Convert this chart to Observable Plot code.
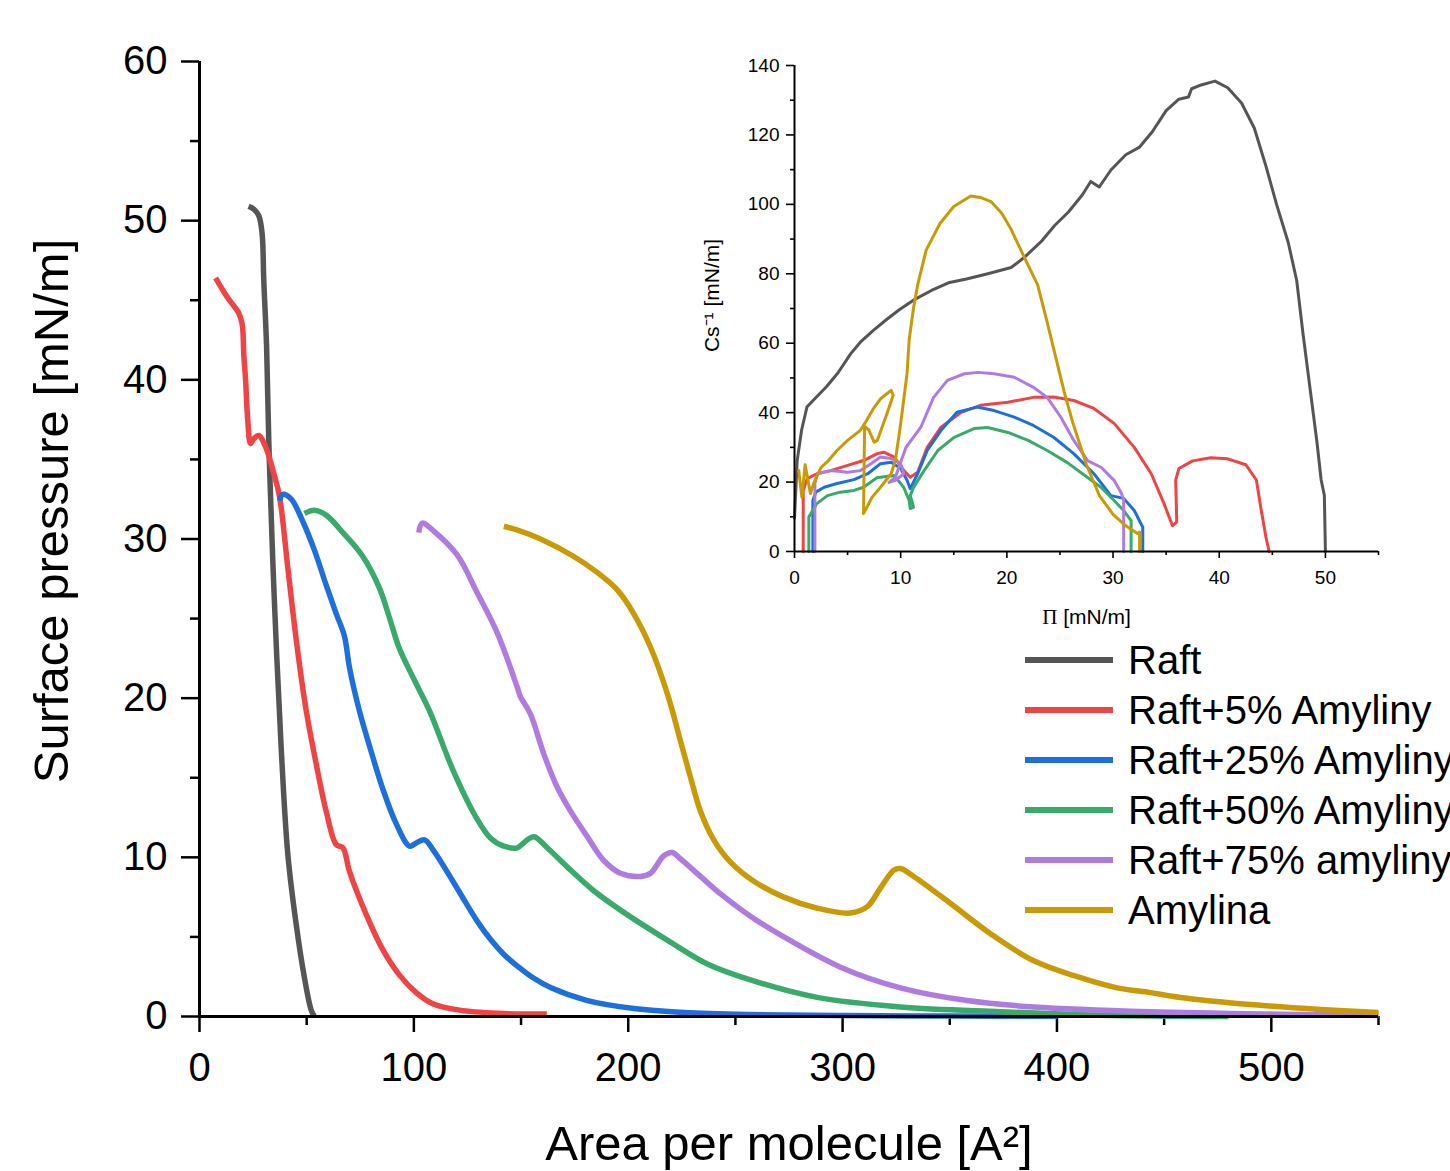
<!DOCTYPE html>
<html>
<head>
<meta charset="utf-8">
<script src="https://cdn.jsdelivr.net/npm/d3@7"></script>
<script src="https://cdn.jsdelivr.net/npm/@observablehq/plot@0.6"></script>
<style>
  html, body { margin: 0; padding: 0; background: #fff; overflow: hidden; }
  #wrap { position: relative; width: 1450px; height: 1171px; overflow: hidden; font-family: "Liberation Sans", Arial, sans-serif; }
  #main { position: absolute; left: 0; top: 0; }
  #inset { position: absolute; left: 690px; top: 40px; width: 760px; }
  #legend { position: absolute; left: 1020px; top: 630px; }
</style>
</head>
<body>
<div id="wrap">
  <div id="main"></div>
  <div id="inset"></div>
  <div id="legend"></div>
</div>
<script>
// ---------- Series names & colours ----------
const seriesNames = ["Raft", "Raft+5% Amyliny", "Raft+25% Amyliny", "Raft+50% Amyliny", "Raft+75% amyliny", "Amylina"];
const seriesColors = ["#555555", "#f04343", "#1d6fdd", "#38aa6a", "#b07be0", "#c99a06"];

// ---------- Main chart: area per molecule [A^2] vs surface pressure [mN/m] ----------
const raftA  = [22.9, 25.5, 27.7, 29.2, 30.0, 31.3, 32.6, 35.0, 38.1, 41.2, 45.1, 49.0, 52.1, 53.6];
const raftP  = [50.9, 50.7, 50.3, 49.2, 46.2, 42.1, 34.8, 25.9, 16.9, 10.2, 5.8, 2.4, 0.4, 0];

const r5A = [7.5, 12.9, 18.3, 19.9, 20.7, 21.5, 22.5, 23.8, 25.3, 27.7, 30.8, 34.7, 37.3, 41.2, 45.1, 49.8, 54.4, 59.1, 63.8, 66.9, 70.0, 77.8, 85.5, 93.3, 101.1, 108.8, 121.3, 140, 162];
const r5P = [46.4, 45.2, 44.2, 43.5, 41.5, 40.0, 37.5, 36.0, 36.3, 36.5, 35.8, 34.1, 32.7, 28.2, 23.7, 19.2, 15.9, 12.9, 10.8, 10.6, 9.1, 6.4, 4.2, 2.6, 1.5, 0.8, 0.4, 0.2, 0.15];

const r25A = [37.3, 38.9, 42.8, 48.2, 53.6, 59.1, 63.8, 67.6, 70.0, 74.6, 79.3, 85.5, 91.8, 98.0, 101.1, 105.0, 108.8, 118.2, 124, 130, 136, 142, 148, 156, 164, 181, 202.6, 225.9, 257, 300, 350, 400];
const r25P = [32.4, 32.8, 32.5, 31.1, 29.3, 27.1, 25.3, 23.9, 21.9, 19.2, 17.0, 14.3, 12.1, 10.7, 10.9, 11.1, 10.5, 8.5, 7.2, 5.9, 4.8, 3.9, 3.2, 2.4, 1.8, 1.0, 0.5, 0.25, 0.12, 0.06, 0.03, 0.01];

const r50A = [49.0, 53.6, 59.1, 66.9, 76.2, 84.0, 88.5, 93.3, 100, 107.3, 118.2, 129.1, 135.8, 142.0, 148.2, 152, 156.0, 162.2, 171.5, 183.9, 199.5, 218.2, 236.9, 257, 288.2, 327, 373.7, 420, 480];
const r50P = [31.6, 31.8, 31.5, 30.4, 28.9, 26.9, 25.1, 23.1, 21.2, 19.2, 15.5, 12.5, 11.2, 10.7, 10.6, 11.0, 11.3, 10.6, 9.4, 7.9, 6.4, 4.8, 3.3, 2.3, 1.2, 0.6, 0.3, 0.08, 0];

const r75A = [102.3, 103.9, 109.3, 120.2, 129.6, 138.9, 148.2, 149.7, 154.4, 160.6, 166.9, 173.1, 180.9, 188.6, 196.4, 205.7, 210.4, 216.6, 220.5, 224.4, 233.7, 243.1, 257, 272.6, 299, 327, 358.1, 389.2, 443.6, 513.6, 550];
const r75P = [30.4, 31.0, 30.5, 29.0, 26.6, 24.1, 20.7, 20.1, 19.0, 16.5, 14.4, 12.9, 11.3, 9.8, 9.0, 8.8, 9.0, 10.1, 10.3, 9.9, 8.8, 7.7, 6.3, 5.0, 3.1, 1.8, 1.0, 0.6, 0.3, 0.13, 0.06];

const amyA = [142.0, 147.4, 159.1, 174.6, 185.5, 194.9, 202.6, 210.4, 218.2, 224.4, 229.1, 233.7, 239.9, 247.7, 258.6, 272.6, 288.2, 303.7, 311.5, 317.8, 324.0, 327.0, 333.2, 350.4, 369, 389.2, 409.5, 428.1, 443.6, 457.6, 490.3, 523, 550];
const amyP = [30.8, 30.6, 30.0, 28.9, 27.9, 26.8, 25.3, 23.2, 20.3, 17.3, 15.0, 12.9, 11.1, 9.7, 8.5, 7.5, 6.8, 6.5, 6.9, 8.1, 9.2, 9.3, 8.8, 7.1, 5.2, 3.5, 2.5, 1.8, 1.5, 1.2, 0.75, 0.44, 0.25];

// ---------- Inset: Pi [mN/m] vs Cs^-1 [mN/m] ----------
const raftPi = [0, 0.25, 0.67, 1.17, 2.0, 3.05, 4.1, 5.3, 6.2, 7.4, 8.7, 9.9, 11.2, 12.9, 14.5, 16.2, 18.3, 20.4, 21.6, 23.3, 24.5, 25.8, 27.1, 27.9, 28.7, 29.8, 31.2, 32.5, 33.7, 35.0, 36.2, 37.1, 37.4, 38.3, 39.6, 40.8, 42.1, 43.3, 44.4, 45.4, 46.5, 47.3, 47.9, 48.5, 49.2, 49.6, 49.9, 50.0];
const raftCs = [9.6, 26.1, 35, 41.6, 44.3, 47.6, 51.5, 57, 60.3, 63.6, 66.9, 69.7, 72.4, 75.2, 77.4, 78.5, 80.1, 81.8, 84.6, 89.5, 93.9, 97.8, 102.7, 106.6, 105.0, 109.9, 114.3, 116.5, 120.9, 127.0, 130.3, 130.9, 133.3, 134.4, 135.5, 133.6, 129.2, 122.0, 111.0, 100.0, 89.0, 78.0, 62.5, 48.2, 31.6, 20.6, 16.2, 0];

const r5Pi = [0.82, 0.82, 1.2, 2.1, 3.4, 5.0, 6.5, 7.8, 8.4, 9.4, 10.3, 10.9, 11.6, 12.5, 13.8, 15.7, 17.5, 20.1, 22.5, 24.4, 26.3, 28.2, 30.1, 32.0, 33.6, 34.8, 35.6, 36.0, 35.9, 36.2, 37.5, 39.2, 40.8, 42.5, 43.5, 43.9, 44.4, 44.7];
const r5Cs = [0, 17.6, 21.0, 22.4, 23.3, 24.8, 26.2, 28.2, 28.6, 27.2, 23.3, 21.4, 22.8, 30.0, 35.8, 40.1, 42.1, 43.0, 44.4, 44.5, 43.5, 41.2, 36.9, 30.0, 22.4, 13.8, 7.4, 8.5, 20.6, 23.9, 26.1, 27.0, 26.7, 25.0, 20.6, 12.9, 4.1, 0];

const r25Pi = [1.73, 1.73, 2.0, 2.8, 4.0, 5.6, 6.9, 8.1, 9.1, 10.0, 10.6, 10.9, 11.6, 12.5, 13.8, 15.3, 17.2, 18.8, 20.7, 22.5, 24.4, 26.3, 28.2, 29.8, 31.0, 32.0, 32.8, 32.8];
const r25Cs = [0, 14.7, 17.1, 18.5, 19.6, 20.7, 22.4, 25.3, 25.7, 23.9, 20.5, 18.1, 22.4, 29.1, 34.9, 40.1, 41.6, 40.6, 38.7, 36.3, 32.9, 28.2, 22.4, 16.1, 15.3, 11.8, 7.0, 0];

const r50Pi = [1.35, 1.35, 2.1, 3.1, 4.3, 5.6, 6.5, 7.2, 7.8, 8.1, 9.4, 10.3, 10.8, 10.9, 11.2, 11.1, 10.9, 11.2, 12.2, 13.5, 15.0, 16.9, 18.2, 20.1, 22.0, 23.8, 25.7, 27.6, 28.9, 30.1, 31.0, 31.7, 31.7];
const r50Cs = [0, 9.9, 13.8, 16.1, 17.1, 17.6, 18.5, 20.0, 21.3, 21.4, 21.9, 18.4, 14.7, 12.4, 12.7, 14.2, 16.1, 18.4, 23.3, 29.1, 32.8, 35.4, 35.7, 34.3, 32.0, 29.1, 25.6, 21.3, 18.4, 14.7, 11.8, 8.9, 0];

const r75Pi = [1.92, 1.92, 2.14, 3.4, 5.0, 6.2, 7.2, 8.1, 9.1, 10.0, 10.3, 9.5, 8.9, 9.5, 10.5, 11.9, 13.1, 14.4, 16.0, 17.3, 18.8, 20.7, 22.5, 23.8, 25.1, 26.3, 27.6, 28.9, 30.1, 30.8, 31.0, 31.0];
const r75Cs = [0, 19.5, 22.4, 23.3, 22.8, 23.3, 25.3, 27.2, 26.8, 25.3, 22.4, 20.5, 19.9, 21.4, 30.0, 35.8, 44.4, 49.3, 51.2, 51.6, 51.2, 50.2, 47.3, 44.4, 38.6, 32.0, 26.2, 24.2, 20.5, 16.7, 14.7, 0];

const amyPi = [0.4, 0.7, 1.0, 1.5, 1.8, 2.5, 3.2, 4.0, 5.0, 6.2, 6.7, 7.4, 8.1, 9.1, 9.3, 8.7, 7.8, 7.5, 7.0, 6.6, 6.5, 7.3, 8.1, 9.1, 9.5, 10.0, 10.6, 10.8, 11.2, 11.6, 12.4, 13.7, 15.0, 16.6, 17.5, 18.5, 19.5, 20.4, 21.6, 22.9, 23.8, 24.6, 25.4, 26.2, 27.5, 28.7, 30.0, 31.2, 32.3, 32.5, 32.5];
const amyCs = [23.3, 15.6, 25.0, 16.7, 19.6, 24.2, 26.2, 29.1, 32.0, 34.9, 37.3, 41.0, 44.0, 46.4, 45.0, 39.7, 32.0, 31.5, 35.0, 36.0, 10.9, 15.6, 18.5, 22.4, 26.2, 36.8, 51.3, 61.0, 70.0, 76.8, 86.8, 94.5, 99.4, 102.4, 102.0, 100.8, 97.5, 92.8, 85.0, 76.8, 66.0, 56.0, 46.0, 37.2, 25.0, 16.2, 10.7, 7.4, 5.2, 5.6, 0];

// ---------- Tick values ----------
const mainXMajor = [0, 100, 200, 300, 400, 500];
const mainXMinor = [50, 150, 250, 350, 450, 550];
const mainYMajor = [0, 10, 20, 30, 40, 50, 60];
const mainYMinor = [5, 15, 25, 35, 45, 55];
const insetXMajor = [0, 10, 20, 30, 40, 50];
const insetXMinor = [5, 15, 25, 35, 45, 55];
const insetYMajor = [0, 20, 40, 60, 80, 100, 120, 140];
const insetYMinor = [10, 30, 50, 70, 90, 110, 130];

// ---------- Build tables ----------
const mainX = [raftA, r5A, r25A, r50A, r75A, amyA];
const mainY = [raftP, r5P, r25P, r50P, r75P, amyP];
const insX = [raftPi, r5Pi, r25Pi, r50Pi, r75Pi, amyPi];
const insY = [raftCs, r5Cs, r25Cs, r50Cs, r75Cs, amyCs];
const toRows = (xs, ys, name) => xs.map((x, i) => ({series: name, x, y: ys[i]}));
const mainRows = seriesNames.map((n, k) => toRows(mainX[k], mainY[k], n));
const insetRows = seriesNames.map((n, k) => toRows(insX[k], insY[k], n));

const FONT = "'Liberation Sans', Arial, Helvetica, sans-serif";

// ---------- Main plot ----------
const mainPlot = Plot.plot({
  width: 1450, height: 1171,
  marginLeft: 199, marginRight: 72, marginTop: 61, marginBottom: 155,
  x: {domain: [0, 550]},
  y: {domain: [0, 60]},
  style: {fontFamily: FONT, background: "white", color: "black", overflow: "visible"},
  marks: [
    Plot.axisX({ticks: mainXMajor, tickSize: 16, tickPadding: 20, fontSize: 40, strokeWidth: 2.5, label: null, tickFormat: d => String(d)}),
    Plot.axisX({ticks: mainXMinor, tickSize: 9, strokeWidth: 2.5, label: null, tickFormat: () => ""}),
    Plot.axisY({ticks: mainYMajor, tickSize: 18, tickPadding: 14, fontSize: 40, strokeWidth: 2.5, label: null, tickFormat: d => String(d)}),
    Plot.axisY({ticks: mainYMinor, tickSize: 9, strokeWidth: 2.5, label: null, tickFormat: () => ""}),
    ...mainRows.map((rows, k) => Plot.line(rows, {x: "x", y: "y", stroke: seriesColors[k], strokeWidth: 5.5, curve: "catmull-rom", strokeLinejoin: "round", strokeLinecap: "butt"})),
    Plot.ruleX([0], {strokeWidth: 3}),
    Plot.ruleY([0], {strokeWidth: 3}),
    Plot.text(["Surface pressure [mN/m]"], {frameAnchor: "left", textAnchor: "middle", lineAnchor: "middle", dx: -147, dy: -28, rotate: -90, fontSize: 49, fill: "black"}),
    Plot.text(["Area per molecule [A²]"], {frameAnchor: "bottom", textAnchor: "middle", lineAnchor: "middle", dy: 128, fontSize: 49, fill: "black"})
  ]
});
document.getElementById("main").appendChild(mainPlot);

// ---------- Inset plot ----------
const insetPlot = Plot.plot({
  width: 760, height: 600,
  marginLeft: 104, marginRight: 72, marginTop: 25, marginBottom: 89,
  x: {domain: [0, 55]},
  y: {domain: [0, 140]},
  style: {fontFamily: FONT, background: "transparent", color: "black", overflow: "visible"},
  marks: [
    Plot.axisX({ticks: insetXMajor, tickSize: 7, tickPadding: 12, fontSize: 19, strokeWidth: 1.6, label: null, tickFormat: d => String(d)}),
    Plot.axisX({ticks: insetXMinor, tickSize: 4, strokeWidth: 1.6, label: null, tickFormat: () => ""}),
    Plot.axisY({ticks: insetYMajor, tickSize: 8, tickPadding: 7, fontSize: 19, strokeWidth: 1.6, label: null, tickFormat: d => String(d)}),
    Plot.axisY({ticks: insetYMinor, tickSize: 4, strokeWidth: 1.6, label: null, tickFormat: () => ""}),
    ...insetRows.map((rows, k) => Plot.line(rows, {x: "x", y: "y", stroke: seriesColors[k], strokeWidth: 3, curve: "linear", strokeLinejoin: "round"})),
    Plot.ruleX([0], {strokeWidth: 2}),
    Plot.ruleY([0], {strokeWidth: 2}),
    Plot.text(["Cs⁻¹ [mN/m]"], {frameAnchor: "left", textAnchor: "middle", lineAnchor: "middle", dx: -82, dy: -13, rotate: -90, fontSize: 21, fill: "black"}),
    Plot.text(["Π [mN/m]"], {frameAnchor: "bottom", textAnchor: "middle", lineAnchor: "middle", dy: 66, fontSize: 21, fill: "black"})
  ]
});
document.getElementById("inset").appendChild(insetPlot);

// serif capital Pi, as in the reference
d3.select(insetPlot).selectAll("text").each(function() {
  const t = d3.select(this);
  if (t.text() === "Π [mN/m]") {
    t.text(null);
    t.append("tspan").attr("font-family", "'Liberation Serif', 'DejaVu Serif', serif").text("Π");
    t.append("tspan").text(" [mN/m]");
  }
});

// ---------- Legend ----------
const leg = d3.select("#legend").append("svg")
  .attr("width", 430).attr("height", 310)
  .style("overflow", "visible");
seriesNames.forEach((name, i) => {
  const cy = 30 + i * 50;
  leg.append("line").attr("x1", 5).attr("x2", 93).attr("y1", cy).attr("y2", cy)
    .attr("stroke", seriesColors[i]).attr("stroke-width", 6);
  leg.append("text").attr("x", 108).attr("y", cy).attr("dy", "0.36em")
    .attr("font-family", FONT).attr("font-size", 40).attr("fill", "black").text(name);
});
</script>
</body>
</html>
